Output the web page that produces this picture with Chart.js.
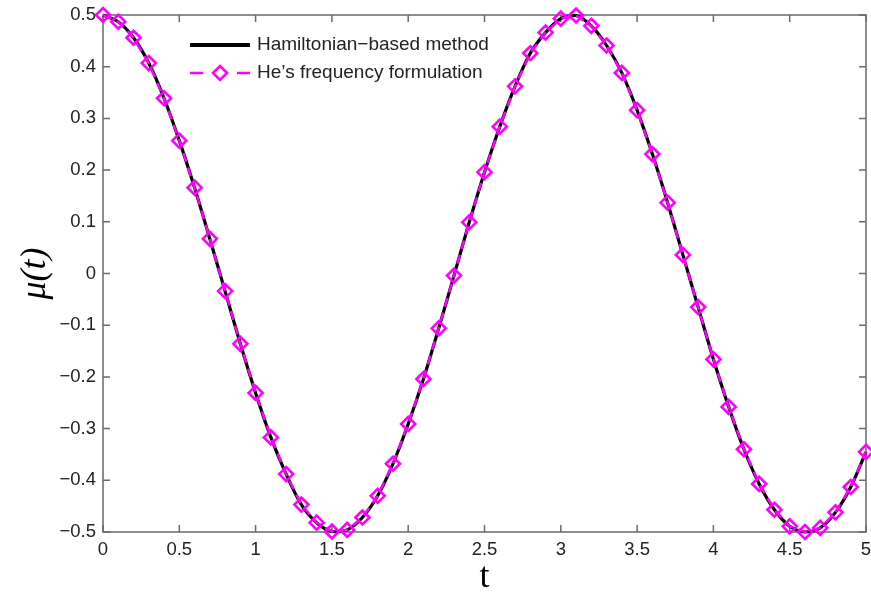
<!DOCTYPE html>
<html>
<head>
<meta charset="utf-8">
<script src="https://cdn.jsdelivr.net/npm/chart.js@4.4.1/dist/chart.umd.min.js"></script>
<style>
  html, body { margin: 0; padding: 0; background: #fff; }
</style>
</head>
<body>
<canvas id="muChart" width="871" height="592"></canvas>
<script>
// time samples (s)
const tValues = [
  0, 0.1, 0.2, 0.3, 0.4, 0.5, 0.6, 0.7, 0.8, 0.9,
  1.0, 1.1, 1.2, 1.3, 1.4, 1.5, 1.6, 1.7, 1.8, 1.9,
  2.0, 2.1, 2.2, 2.3, 2.4, 2.5, 2.6, 2.7, 2.8, 2.9,
  3.0, 3.1, 3.2, 3.3, 3.4, 3.5, 3.6, 3.7, 3.8, 3.9,
  4.0, 4.1, 4.2, 4.3, 4.4, 4.5, 4.6, 4.7, 4.8, 4.9,
  5.0
];

// mu(t) -- both methods overlap, so one set of readings
const hamiltonianMu = [
  0.500, 0.487, 0.456, 0.407, 0.339, 0.257, 0.166, 0.067, -0.034, -0.136,
  -0.231, -0.317, -0.388, -0.447, -0.482, -0.499, -0.496, -0.472, -0.430, -0.368,
  -0.291, -0.204, -0.106, -0.004, 0.099, 0.196, 0.284, 0.362, 0.426, 0.466,
  0.493, 0.499, 0.479, 0.441, 0.388, 0.316, 0.231, 0.137, 0.036, -0.065,
  -0.166, -0.258, -0.340, -0.407, -0.457, -0.489, -0.500, -0.492, -0.462, -0.413,
  -0.345
];
const heFrequencyMu = hamiltonianMu.slice();

const xTickStep = 0.5;
const yTickStep = 0.1;

const AXIS_COLOR = '#6a6a6a';
const TEXT_COLOR = '#222222';
const TICK_LEN = 7;

const toPoints = (ys) => ys.map((v, i) => ({ x: tValues[i], y: v }));

/**
 * Boxed frame with inward ticks on all four sides (MATLAB look)
 */
const frameTicks = {
  id: 'frameTicks',
  beforeDatasetsDraw(chart) {
    const { ctx, chartArea: a, scales: { x, y } } = chart;
    ctx.save();
    ctx.strokeStyle = AXIS_COLOR;
    ctx.lineWidth = 1.5;
    ctx.strokeRect(a.left, a.top, a.right - a.left, a.bottom - a.top);
    ctx.beginPath();
    x.ticks.forEach(t => {
      const px = x.getPixelForValue(t.value);
      ctx.moveTo(px, a.bottom); ctx.lineTo(px, a.bottom - TICK_LEN);
      ctx.moveTo(px, a.top); ctx.lineTo(px, a.top + TICK_LEN);
    });
    y.ticks.forEach(t => {
      const py = y.getPixelForValue(t.value);
      ctx.moveTo(a.left, py); ctx.lineTo(a.left + TICK_LEN, py);
      ctx.moveTo(a.right, py); ctx.lineTo(a.right - TICK_LEN, py);
    });
    ctx.stroke();
    ctx.restore();
  }
};

/**
 * Legend drawn inside the plot, top-left
 */
const insideLegend = {
  id: 'insideLegend',
  afterDraw(chart) {
    const { ctx } = chart;
    const ds = chart.data.datasets;
    const x0 = 190, x1 = 250, textX = 257;
    const rows = [45, 73];
    ctx.save();
    ctx.font = '19px "Liberation Sans", Arial, sans-serif';
    ctx.textBaseline = 'middle';
    ctx.fillStyle = TEXT_COLOR;

    // row 1: solid black line
    ctx.strokeStyle = ds[0].borderColor;
    ctx.lineWidth = 4;
    ctx.beginPath();
    ctx.moveTo(x0, rows[0]); ctx.lineTo(x1, rows[0]);
    ctx.stroke();
    ctx.fillText(ds[0].label, textX, rows[0]);

    // row 2: dashed magenta with diamond
    ctx.strokeStyle = ds[1].borderColor;
    ctx.lineWidth = ds[1].borderWidth;
    ctx.beginPath();
    ctx.moveTo(x0, rows[1]); ctx.lineTo(x0 + 13, rows[1]);
    ctx.moveTo(x1 - 13, rows[1]); ctx.lineTo(x1, rows[1]);
    ctx.stroke();
    const cx = (x0 + x1) / 2, r = ds[1].pointRadius;
    ctx.lineWidth = ds[1].pointBorderWidth;
    ctx.beginPath();
    ctx.moveTo(cx, rows[1] - r); ctx.lineTo(cx + r, rows[1]);
    ctx.lineTo(cx, rows[1] + r); ctx.lineTo(cx - r, rows[1]);
    ctx.closePath();
    ctx.stroke();
    ctx.fillText(ds[1].label, textX, rows[1]);
    ctx.restore();
  }
};

const fmtX = (v) => String(Math.round(v * 10) / 10);
const fmtY = (v) => {
  const s = Math.abs(v) < 1e-9 ? '0' : v.toFixed(1);
  return s.replace('-', '\u2212');
};

new Chart(document.getElementById('muChart'), {
  type: 'line',
  data: {
    datasets: [
      {
        label: 'Hamiltonian\u2212based method',
        data: toPoints(hamiltonianMu),
        borderColor: '#000000',
        borderWidth: 3.2,
        pointRadius: 0,
        tension: 0.3,
        clip: false,
        order: 2
      },
      {
        label: 'He\u2019s frequency formulation',
        data: toPoints(heFrequencyMu),
        borderColor: '#ff00ff',
        borderWidth: 2.5,
        borderDash: [9, 6],
        pointStyle: 'rectRot',
        pointRadius: 7,
        pointBorderWidth: 2.6,
        pointBorderColor: '#ff00ff',
        pointBackgroundColor: 'rgba(0,0,0,0)',
        clip: false,
        order: 1
      }
    ]
  },
  options: {
    responsive: false,
    animation: false,
    // markers would otherwise reserve extra room round the plot
    layout: { autoPadding: false, padding: { left: 0, right: 5, top: 15, bottom: 0 } },
    plugins: {
      legend: { display: false },
      tooltip: { enabled: false }
    },
    scales: {
      x: {
        type: 'linear',
        min: 0,
        max: 5,
        afterFit: (scale) => {
          scale.height = 60;
          scale.paddingLeft = 0;
          scale.paddingRight = 0;
        },
        border: { display: false },
        grid: { display: false, drawTicks: false },
        ticks: {
          stepSize: xTickStep,
          padding: 7,
          color: TEXT_COLOR,
          maxRotation: 0,
          callback: fmtX,
          font: { family: '"Liberation Sans", Arial, sans-serif', size: 18.5 }
        },
        title: {
          display: true,
          text: 't',
          color: '#000',
          padding: { top: 0, bottom: 0 },
          font: { family: '"Liberation Serif", "Times New Roman", serif', size: 36, lineHeight: 0.8 }
        }
      },
      y: {
        min: -0.5,
        max: 0.5,
        afterFit: (scale) => {
          scale.width = 103;
          scale.paddingTop = 0;
          scale.paddingBottom = 0;
        },
        border: { display: false },
        grid: { display: false, drawTicks: false },
        ticks: {
          stepSize: yTickStep,
          padding: 7,
          color: TEXT_COLOR,
          callback: fmtY,
          font: { family: '"Liberation Sans", Arial, sans-serif', size: 18.5 }
        },
        title: {
          display: true,
          text: '\u03bc(t)',
          color: '#000',
          padding: { top: 18, bottom: 0 },
          font: { family: '"Liberation Serif", "Times New Roman", serif', size: 36, style: 'italic', lineHeight: 1 }
        }
      }
    }
  },
  plugins: [frameTicks, insideLegend]
});
</script>
</body>
</html>
